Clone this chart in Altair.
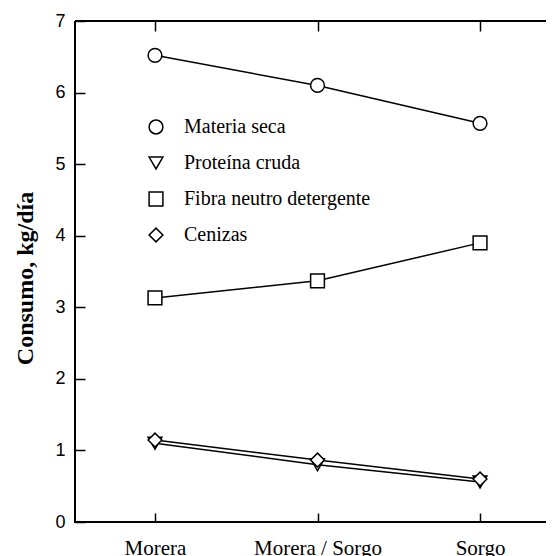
import altair as alt
import pandas as pd

categories = ["Morera", "Morera / Sorgo", "Sorgo"]
series_names = ["Materia seca", "Proteína cruda", "Fibra neutro detergente", "Cenizas"]
materia_seca = [6.52, 6.10, 5.57]
proteina_cruda = [1.10, 0.80, 0.56]
fibra_nd = [3.13, 3.37, 3.90]
cenizas = [1.145, 0.866, 0.60]
y_ticks = [0, 1, 2, 3, 4, 5, 6, 7]

shapes = ["circle", "triangle-down", "square", "diamond"]

rows = []
for name, vals in zip(series_names, [materia_seca, proteina_cruda, fibra_nd, cenizas]):
    for c, v in zip(categories, vals):
        rows.append({"cat": c, "value": v, "serie": name})
df = pd.DataFrame(rows)

W = 471
H = 501

xscale = alt.Scale(domain=categories, padding=0.449, align=0.548)
yscale = alt.Scale(domain=[0, 7], nice=False, zero=True)

xaxis_bottom = alt.Axis(orient="bottom", title=None, labelFont="Liberation Serif",
                        labelFontSize=21, labelColor="black", labelPadding=15,
                        ticks=True, tickSize=9, tickWidth=1.5, tickColor="black", offset=-9,
                        domain=False, grid=False, labelAngle=0)
xaxis_top = alt.Axis(orient="top", title=None, labels=False,
                     ticks=True, tickSize=10, tickWidth=1.5, tickColor="black", offset=-10,
                     domain=False, grid=False)
yaxis = alt.Axis(title="Consumo, kg/día", titleFont="Liberation Serif", titleFontWeight="bold",
                 titleFontSize=24, titleColor="black", titleX=-60, titleY=257, titleAngle=270,
                 titleBaseline="middle", titleAlign="center", format="d",
                 values=y_ticks, labelFont="Liberation Sans", labelFontSize=18, labelColor="black",
                 labelPadding=10, ticks=True, tickSize=10, tickWidth=1.5, tickColor="black",
                 offset=-10, domain=False, grid=False)

lines = alt.Chart(df).mark_line(color="black", strokeWidth=1.5).encode(
    x=alt.X("cat:N", scale=xscale, axis=xaxis_bottom, sort=categories),
    y=alt.Y("value:Q", scale=yscale, axis=yaxis),
    detail="serie:N",
)

points = alt.Chart(df).mark_point(
    filled=False, color="black", fill="white", fillOpacity=1,
    strokeWidth=1.5, size=190, opacity=1).encode(
    x=alt.X("cat:N", scale=xscale, axis=xaxis_top, sort=categories),
    y=alt.Y("value:Q", scale=yscale),
    shape=alt.Shape("serie:N", scale=alt.Scale(domain=series_names, range=shapes),
                    legend=alt.Legend(orient="none", legendX=71, legendY=96, title=None,
                                      labelFont="Liberation Serif", labelFontSize=20,
                                      labelColor="black", labelLimit=0, symbolSize=190,
                                      symbolStrokeWidth=1.5,
                                      rowPadding=16, labelOffset=18, padding=0)),
)

chart = alt.layer(lines, points).resolve_axis(x="independent").properties(
    width=W, height=H,
    autosize=alt.AutoSizeParams(type="none"),
    padding={"left": 67, "top": 13, "right": 0, "bottom": 37},
).configure_view(stroke="black", strokeWidth=2, strokeDash=[W, H, W + H, 0])

chart.save("out.html", embed_options={"renderer": "svg", "actions": False})
